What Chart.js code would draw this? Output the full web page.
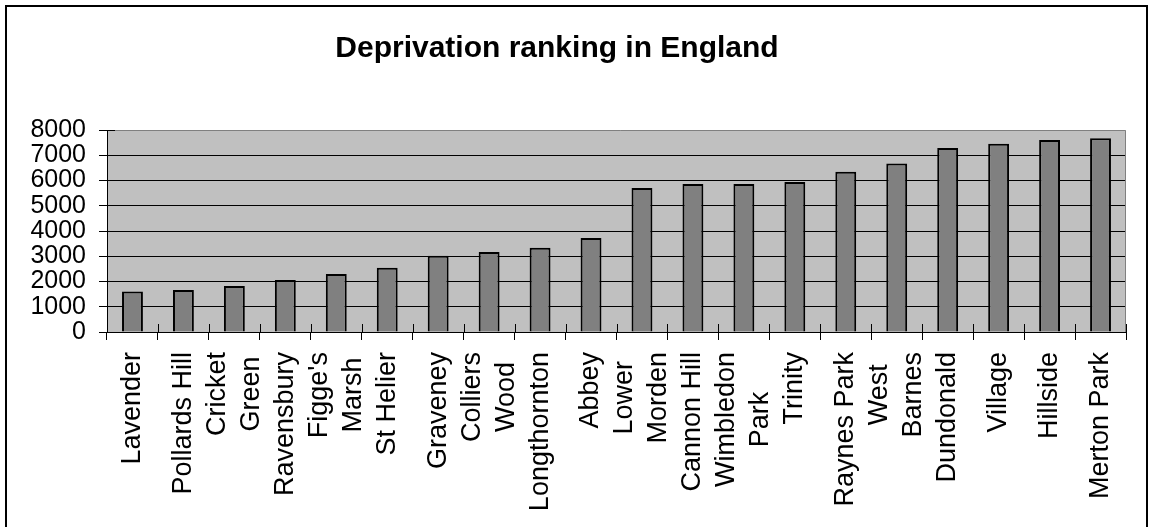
<!DOCTYPE html>
<html>
<head>
<meta charset="utf-8">
<script src="https://cdn.jsdelivr.net/npm/chart.js@4/dist/chart.umd.min.js"></script>
<style>
html,body{margin:0;padding:0;background:#fff;}
canvas{display:block;}
</style>
</head>
<body>
<canvas id="c" width="1151" height="527"></canvas>
<script>
const titleText = 'Deprivation ranking in England';
const categories = [
  'Lavender', 'Pollards Hill', ['Cricket', 'Green'], 'Ravensbury', ['Figge\'s', 'Marsh'],
  'St Helier', 'Graveney', ['Colliers', 'Wood'], 'Longthornton', 'Abbey',
  ['Lower', 'Morden'], 'Cannon Hill', ['Wimbledon', 'Park'], 'Trinity', 'Raynes Park',
  ['West', 'Barnes'], 'Dundonald', 'Village', 'Hillside', 'Merton Park'
];
const rankValues = [1600, 1660, 1820, 2060, 2300, 2540, 3020, 3170, 3340, 3720,
  5700, 5860, 5860, 5940, 6350, 6670, 7290, 7460, 7600, 7670];
const yTicks = [0, 1000, 2000, 3000, 4000, 5000, 6000, 7000, 8000];

const FONT = "'Liberation Sans', Arial, sans-serif";

const decor = {
  id: 'decor',
  beforeDraw(chart) {
    const ctx = chart.ctx;
    const a = chart.chartArea;
    ctx.save();
    ctx.fillStyle = '#fff';
    ctx.fillRect(0, 0, chart.width, chart.height);
    // outer frame
    ctx.strokeStyle = '#000';
    ctx.lineWidth = 2;
    ctx.strokeRect(6, 6, 1141, 540);
    // plot background
    ctx.fillStyle = '#C0C0C0';
    ctx.fillRect(a.left, a.top, a.right - a.left, a.bottom - a.top);
    // title
    ctx.fillStyle = '#000';
    ctx.font = 'bold 30px ' + FONT;
    ctx.textAlign = 'center';
    ctx.textBaseline = 'alphabetic';
    ctx.fillText(titleText, 557, 57);
    ctx.restore();
  },
  afterDraw(chart) {
    const ctx = chart.ctx;
    const a = chart.chartArea;
    const xs = chart.scales.x;
    ctx.save();
    // grey top/right border of plot area
    ctx.strokeStyle = '#808080';
    ctx.lineWidth = 1;
    ctx.beginPath();
    ctx.moveTo(a.left + 8, a.top + 0.5);
    ctx.lineTo(a.right - 0.5, a.top + 0.5);
    ctx.lineTo(a.right - 0.5, a.bottom);
    ctx.stroke();
    // ticks crossing into plot area
    ctx.strokeStyle = '#000';
    ctx.beginPath();
    const n = categories.length;
    const w = (a.right - a.left) / n;
    for (let i = 0; i <= n; i++) {
      const px = Math.round(a.left + i * w) + 0.5;
      ctx.moveTo(px, a.bottom - 8);
      ctx.lineTo(px, a.bottom);
    }
    ctx.moveTo(a.left, a.top + 0.5);
    ctx.lineTo(a.left + 8, a.top + 0.5);
    ctx.stroke();
    // category labels, rotated, lines centred in their block
    ctx.fillStyle = '#000';
    ctx.font = '27px ' + FONT;
    ctx.textAlign = 'center';
    ctx.textBaseline = 'middle';
    const top = a.bottom + 20;
    const lineGap = 34;
    categories.forEach((lab, i) => {
      const lines = Array.isArray(lab) ? lab : [lab];
      const cx = xs.getPixelForValue(i);
      const blockLen = Math.max(...lines.map(t => ctx.measureText(t).width));
      lines.forEach((t, j) => {
        const x = cx + (j - (lines.length - 1) / 2) * lineGap;
        ctx.save();
        ctx.translate(x, top + blockLen / 2);
        ctx.rotate(-Math.PI / 2);
        ctx.fillText(t, 0, 0);
        ctx.restore();
      });
    });
    ctx.restore();
  }
};

new Chart(document.getElementById('c'), {
  type: 'bar',
  data: {
    labels: categories,
    datasets: [{
      data: rankValues,
      backgroundColor: '#808080',
      borderColor: '#000',
      borderWidth: 2,
      barPercentage: 0.41,
      categoryPercentage: 1.0
    }]
  },
  options: {
    responsive: false,
    animation: false,
    devicePixelRatio: 1,
    layout: { padding: { top: 130, right: 25, left: 0, bottom: 0 } },
    plugins: {
      legend: { display: false },
      title: { display: false },
      tooltip: { enabled: false }
    },
    scales: {
      x: {
        offset: true,
        afterFit(s) { s.height = 195; },
        grid: {
          offset: true,
          drawOnChartArea: false,
          drawTicks: true,
          tickLength: 8,
          color: '#000',
          tickColor: '#000'
        },
        border: { display: true, color: '#000', width: 1 },
        ticks: {
          display: false,
          autoSkip: false
        }
      },
      y: {
        min: 0,
        max: 8000,
        afterFit(s) { s.width = 107; },
        afterBuildTicks(s) { s.ticks = yTicks.map(v => ({ value: v })); },
        grid: {
          drawOnChartArea: true,
          drawTicks: true,
          tickLength: 8,
          color: ctx => (ctx.tick && ctx.tick.value === 8000) ? 'rgba(0,0,0,0)' : '#000',
          tickColor: '#000'
        },
        border: { display: true, color: '#000', width: 1 },
        ticks: {
          autoSkip: false,
          padding: 13,
          color: '#000',
          font: { family: FONT, size: 25 },
          callback: v => String(v)
        }
      }
    }
  },
  plugins: [decor]
});
</script>
</body>
</html>
